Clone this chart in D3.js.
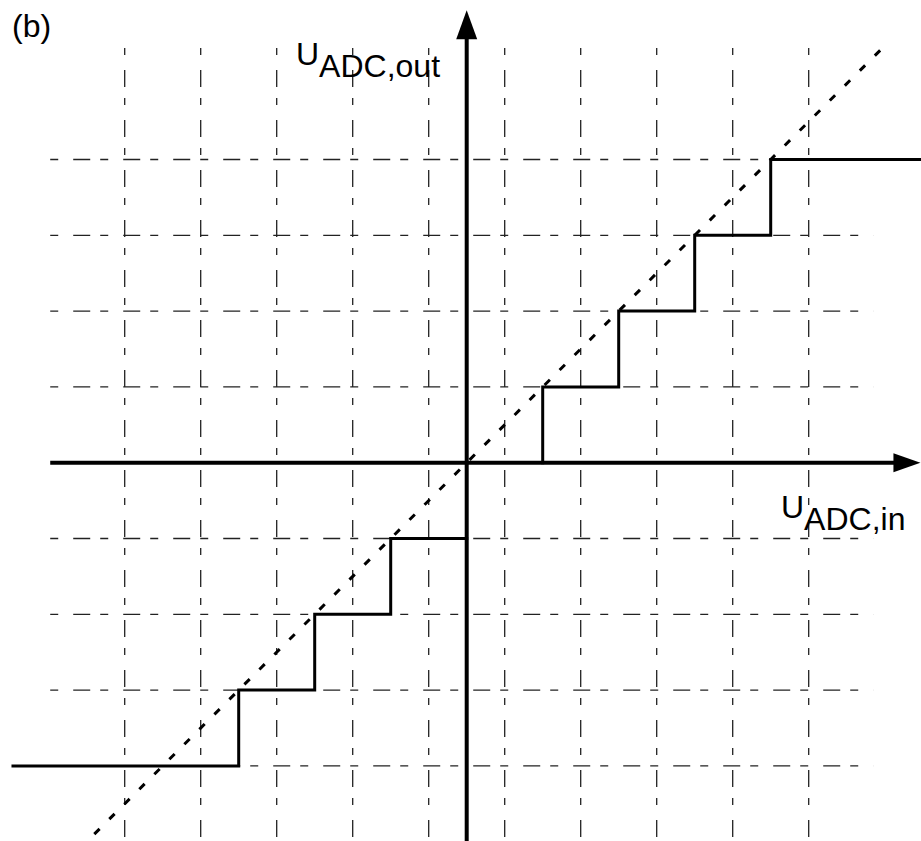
<!DOCTYPE html>
<html>
<head>
<meta charset="utf-8">
<script src="https://cdn.jsdelivr.net/npm/d3@7"></script>
<style>
  html, body { margin: 0; padding: 0; background: #fff; }
  svg { display: block; }
  text { font-family: "Liberation Sans", Arial, sans-serif; fill: #000; }
</style>
</head>
<body>
<script>
// ADC transfer characteristic, in LSB units
const xGridLevels = [-4.5, -3.5, -2.5, -1.5, -0.5, 0.5, 1.5, 2.5, 3.5, 4.5];
const yGridLevels = [-4, -3, -2, -1, 1, 2, 3, 4];
const xGridExtent = [-5.48, 5.35];   // horizontal grid lines run over this input range
const yGridExtent = [-5.05, 5.47];   // vertical grid lines run over this output range
const xAxisExtent = [-5.48, 5.97];
const yAxisExtent = [-5.05, 5.97];
const idealLine = [[-5.5, -5.5], [5.44, 5.44]];
const stairPositive = [[1, 0], [1, 1], [2, 1], [2, 2], [3, 2], [3, 3], [4, 3], [4, 4], [6, 4]];
const stairNegative = [[0, -1], [-1, -1], [-1, -2], [-2, -2], [-2, -3], [-3, -3], [-3, -4], [-5.97, -4]];
const panelLabel = "(b)";
const yLabel = { main: "U", sub: "ADC,out" };
const xLabel = { main: "U", sub: "ADC,in" };

const W = 921, H = 841;
const cx = 466.7, cy = 462.7, ux = 76, uy = 75.8;

const svg = d3.select("body").append("svg").attr("width", W).attr("height", H);

const x = d3.scaleLinear().domain([-6, 6]).range([cx - 6 * ux, cx + 6 * ux]);
const y = d3.scaleLinear().domain([-6, 6]).range([cy + 6 * uy, cy - 6 * uy]);

// dashed grid
svg.append("g").selectAll("line").data(xGridLevels).join("line")
  .attr("x1", d => x(d)).attr("x2", d => x(d))
  .attr("y1", y(yGridExtent[1])).attr("y2", y(yGridExtent[0]))
  .attr("stroke", "#222").attr("stroke-width", 1.3)
  .attr("stroke-dasharray", "7,15,17,11");

svg.append("g").selectAll("line").data(yGridLevels).join("line")
  .attr("y1", d => y(d)).attr("y2", d => y(d))
  .attr("x1", x(xGridExtent[0])).attr("x2", x(xGridExtent[1]))
  .attr("stroke", "#222").attr("stroke-width", 1.3)
  .attr("stroke-dasharray", "8,15,17,10");

// axes with arrow heads
svg.append("line")
  .attr("x1", x(xAxisExtent[0])).attr("x2", x(xAxisExtent[1]) - 20)
  .attr("y1", y(0)).attr("y2", y(0))
  .attr("stroke", "#000").attr("stroke-width", 4);
svg.append("line")
  .attr("x1", x(0)).attr("x2", x(0))
  .attr("y1", y(yAxisExtent[0])).attr("y2", y(yAxisExtent[1]) + 22)
  .attr("stroke", "#000").attr("stroke-width", 4);

const xt = x(xAxisExtent[1]), yt = y(yAxisExtent[1]);
svg.append("path")
  .attr("d", `M${xt},${y(0)} L${xt - 27},${y(0) - 9.5} L${xt - 27},${y(0) + 9.5} Z`)
  .attr("fill", "#000");
svg.append("path")
  .attr("d", `M${x(0)},${yt} L${x(0) - 10.5},${yt + 29} L${x(0) + 10.5},${yt + 29} Z`)
  .attr("fill", "#000");

// ideal (unquantised) characteristic
const line = d3.line().x(d => x(d[0])).y(d => y(d[1]));
svg.append("path")
  .attr("d", line(idealLine.slice().reverse()))
  .attr("fill", "none").attr("stroke", "#000").attr("stroke-width", 3)
  .attr("stroke-dasharray", "7.5,13.7");

// quantised staircase
[stairPositive, stairNegative].forEach(s => {
  svg.append("path")
    .attr("d", line(s))
    .attr("fill", "none").attr("stroke", "#000").attr("stroke-width", 3)
    .attr("stroke-linejoin", "miter").attr("stroke-linecap", "square");
});

// labels
svg.append("text").attr("x", 12).attr("y", 37)
  .attr("font-size", 32).text(panelLabel);

function subLabel(px, py, lab) {
  const t = svg.append("text").attr("x", px).attr("y", py).attr("font-size", 32);
  t.append("tspan").text(lab.main);
  t.append("tspan").attr("dy", 12).text(lab.sub);
}
subLabel(296, 65, yLabel);
subLabel(781, 518, xLabel);
</script>
</body>
</html>
